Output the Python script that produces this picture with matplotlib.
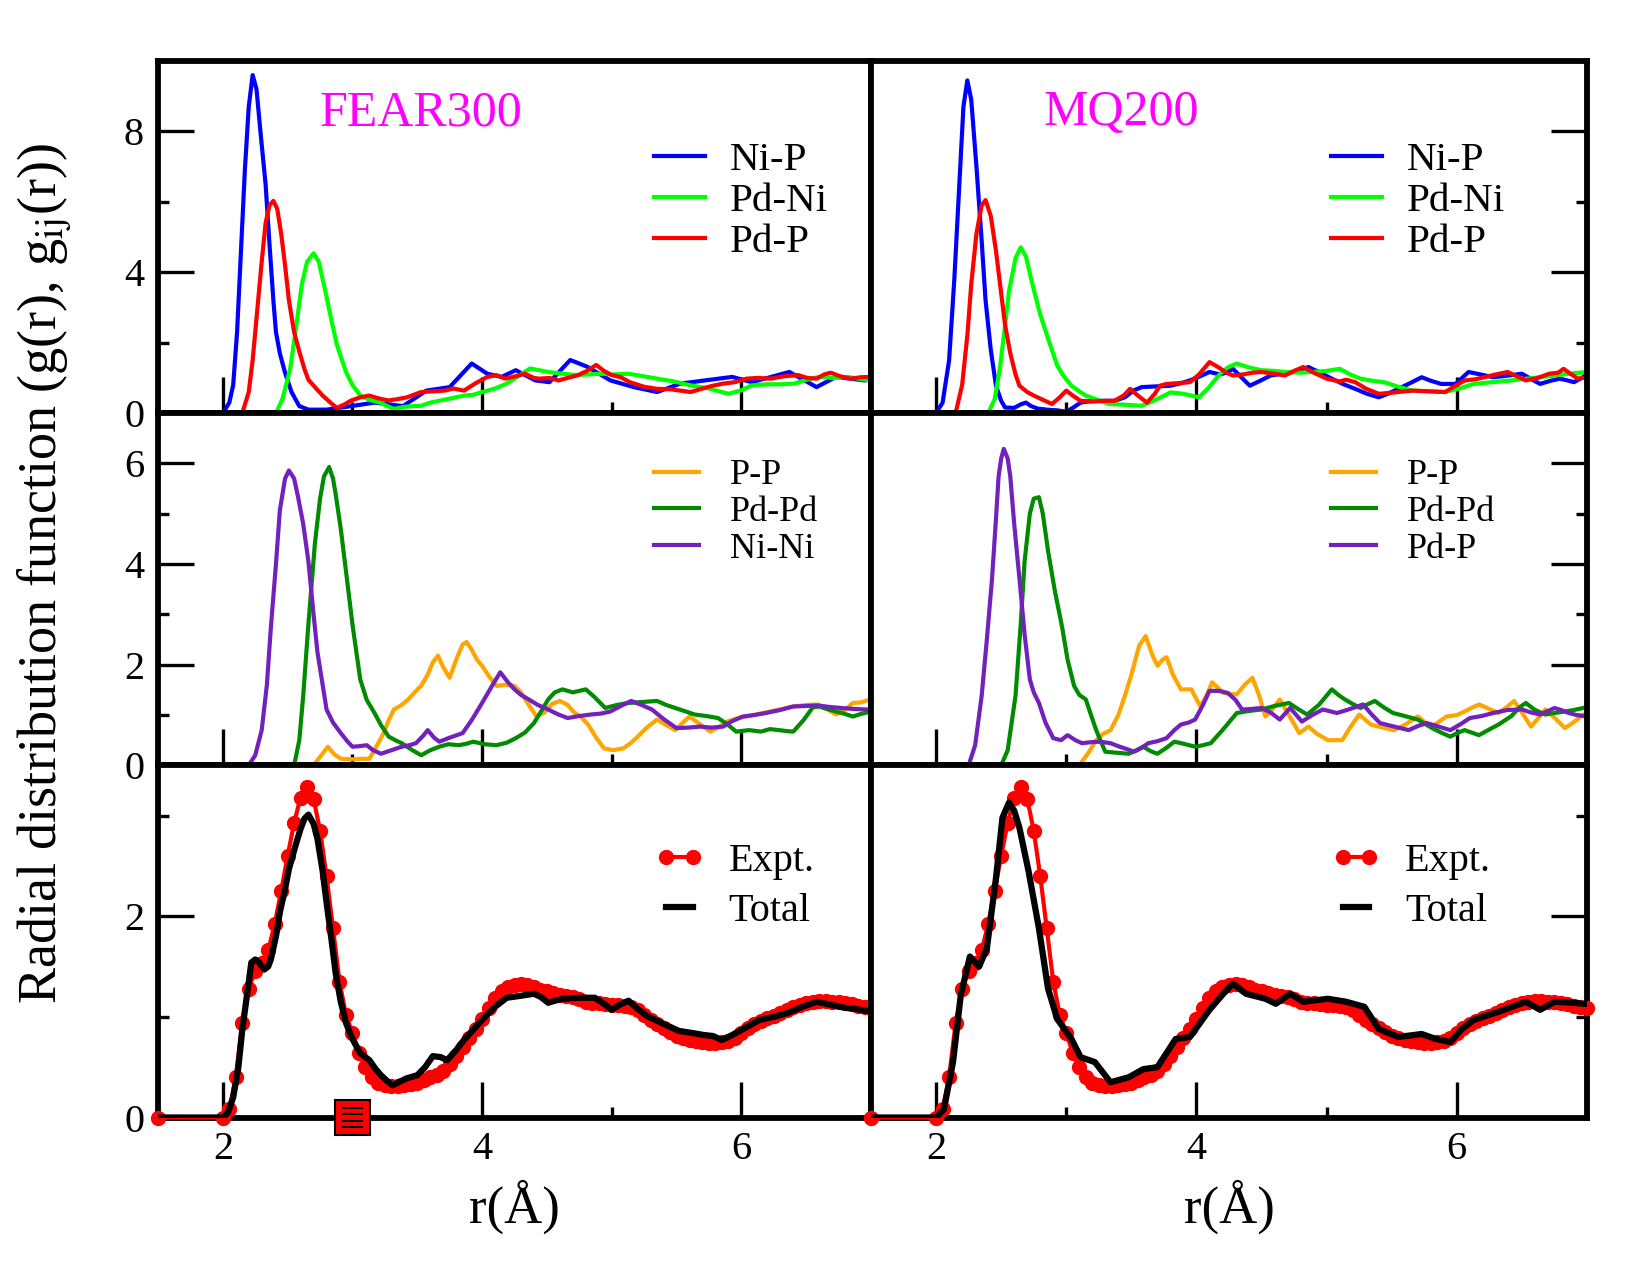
import matplotlib
matplotlib.use('Agg')
import matplotlib.pyplot as plt
from matplotlib.ticker import MultipleLocator
from matplotlib.patches import Rectangle

plt.rcParams['font.family'] = ['Liberation Serif', 'DejaVu Serif']
plt.rcParams['mathtext.fontset'] = 'stix'

# ---------------- data ----------------
# top row, FEAR300
fear_nip_r = [2.0, 2.05, 2.08, 2.11, 2.14, 2.17, 2.20, 2.23, 2.26, 2.29, 2.33, 2.36, 2.39, 2.41, 2.44, 2.48, 2.53, 2.59, 2.66, 2.8, 2.99, 3.17, 3.39, 3.57, 3.75, 3.92, 4.04, 4.15, 4.26, 4.41, 4.52, 4.68, 4.81, 4.99, 5.17, 5.35, 5.53, 5.72, 5.93, 6.08, 6.37, 6.58, 6.73, 6.95, 7.0]
fear_nip_g = [0.0, 0.3, 0.8, 2.3, 4.6, 6.9, 8.7, 9.6, 9.2, 8.0, 6.5, 4.8, 3.2, 2.3, 1.7, 1.15, 0.6, 0.2, 0.1, 0.1, 0.2, 0.3, 0.2, 0.64, 0.74, 1.41, 1.12, 1.03, 1.22, 0.93, 0.88, 1.51, 1.32, 0.93, 0.74, 0.6, 0.84, 0.93, 1.03, 0.88, 1.17, 0.74, 1.03, 0.93, 0.95]
fear_pdni_r = [2.41, 2.46, 2.52, 2.56, 2.61, 2.65, 2.70, 2.74, 2.79, 2.84, 2.88, 2.95, 3.0, 3.06, 3.13, 3.21, 3.27, 3.32, 3.4, 3.47, 3.53, 3.6, 3.68, 3.76, 3.86, 3.93, 4.0, 4.1, 4.19, 4.28, 4.37, 4.44, 4.51, 4.62, 4.73, 4.82, 4.91, 5.02, 5.13, 5.24, 5.35, 5.48, 5.61, 5.75, 5.9, 6.0, 6.08, 6.2, 6.3, 6.41, 6.5, 6.6, 6.71, 6.82, 6.9, 7.0]
fear_pdni_g = [0.0, 0.4, 1.27, 2.3, 3.67, 4.3, 4.54, 4.3, 3.48, 2.6, 1.94, 1.17, 0.8, 0.5, 0.38, 0.3, 0.2, 0.12, 0.18, 0.2, 0.21, 0.3, 0.36, 0.42, 0.5, 0.52, 0.6, 0.7, 0.84, 1.05, 1.27, 1.22, 1.17, 1.12, 1.08, 1.1, 1.12, 1.1, 1.12, 1.05, 0.98, 0.9, 0.79, 0.7, 0.55, 0.65, 0.79, 0.82, 0.82, 0.84, 0.95, 1.03, 1.0, 1.03, 0.98, 0.93]
fear_pdp_r = [2.15, 2.20, 2.23, 2.26, 2.30, 2.33, 2.36, 2.39, 2.42, 2.45, 2.48, 2.51, 2.55, 2.59, 2.63, 2.66, 2.72, 2.77, 2.83, 2.88, 2.94, 2.99, 3.06, 3.13, 3.2, 3.28, 3.35, 3.42, 3.53, 3.62, 3.71, 3.78, 3.86, 3.95, 4.04, 4.11, 4.18, 4.26, 4.33, 4.4, 4.44, 4.52, 4.59, 4.66, 4.74, 4.81, 4.88, 4.94, 5.0, 5.07, 5.14, 5.25, 5.35, 5.45, 5.53, 5.61, 5.7, 5.78, 5.86, 5.95, 6.04, 6.12, 6.23, 6.33, 6.44, 6.51, 6.58, 6.64, 6.69, 6.76, 6.84, 6.92, 7.0]
fear_pdp_g = [0.0, 0.6, 1.5, 2.7, 4.3, 5.4, 5.9, 6.03, 5.8, 5.1, 4.2, 3.2, 2.3, 1.75, 1.25, 0.95, 0.7, 0.5, 0.3, 0.15, 0.25, 0.36, 0.45, 0.5, 0.42, 0.36, 0.4, 0.45, 0.6, 0.62, 0.64, 0.7, 0.64, 0.85, 1.03, 1.08, 0.98, 1.05, 1.12, 1.0, 0.98, 1.0, 0.93, 1.0, 1.08, 1.2, 1.37, 1.2, 1.08, 1.02, 0.88, 0.75, 0.69, 0.68, 0.64, 0.6, 0.7, 0.78, 0.84, 0.88, 0.98, 1.0, 0.98, 1.05, 1.08, 1.0, 0.98, 1.1, 1.15, 1.05, 0.98, 1.02, 1.03]

# top row, MQ200
mq_nip_r = [2.0, 2.05, 2.1, 2.14, 2.18, 2.21, 2.24, 2.27, 2.31, 2.35, 2.38, 2.42, 2.46, 2.5, 2.53, 2.6, 2.65, 2.69, 2.73, 2.78, 2.85, 2.93, 3.0, 3.05, 3.11, 3.2, 3.28, 3.37, 3.45, 3.52, 3.58, 3.69, 3.8, 3.88, 3.95, 4.03, 4.1, 4.18, 4.23, 4.28, 4.35, 4.41, 4.49, 4.57, 4.66, 4.75, 4.86, 4.95, 5.04, 5.13, 5.22, 5.31, 5.4, 5.47, 5.55, 5.64, 5.73, 5.8, 5.88, 5.99, 6.09, 6.18, 6.28, 6.4, 6.5, 6.58, 6.64, 6.72, 6.79, 6.86, 6.9, 6.96, 7.0]
mq_nip_g = [0.0, 0.3, 1.5, 3.8, 6.6, 8.7, 9.45, 8.9, 7.0, 4.9, 3.2, 1.8, 0.78, 0.35, 0.16, 0.15, 0.25, 0.3, 0.2, 0.13, 0.1, 0.08, 0.04, 0.15, 0.3, 0.35, 0.35, 0.35, 0.45, 0.65, 0.74, 0.76, 0.78, 0.85, 0.93, 1.05, 1.17, 1.1, 1.15, 1.26, 1.0, 0.78, 0.92, 1.07, 1.12, 1.17, 1.31, 1.15, 0.98, 0.82, 0.69, 0.55, 0.45, 0.55, 0.69, 0.85, 1.02, 0.92, 0.83, 0.83, 1.17, 1.1, 1.02, 1.07, 1.12, 0.95, 0.83, 0.92, 0.98, 0.92, 0.88, 1.0, 1.12]
mq_pdni_r = [2.4, 2.45, 2.49, 2.53, 2.56, 2.61, 2.65, 2.69, 2.74, 2.8, 2.86, 2.93, 2.98, 3.04, 3.1, 3.15, 3.24, 3.33, 3.45, 3.58, 3.7, 3.8, 3.9, 4.02, 4.1, 4.17, 4.24, 4.31, 4.4, 4.5, 4.6, 4.68, 4.8, 4.9, 5.0, 5.1, 5.18, 5.26, 5.35, 5.44, 5.55, 5.66, 5.8, 5.91, 6.02, 6.13, 6.27, 6.42, 6.54, 6.64, 6.75, 6.86, 7.0]
mq_pdni_g = [0.0, 0.4, 1.26, 2.5, 3.46, 4.4, 4.71, 4.45, 3.66, 2.8, 2.12, 1.36, 1.05, 0.78, 0.62, 0.5, 0.38, 0.26, 0.24, 0.21, 0.4, 0.59, 0.55, 0.45, 0.75, 1.07, 1.3, 1.41, 1.3, 1.22, 1.2, 1.17, 1.15, 1.17, 1.2, 1.26, 1.1, 0.98, 0.92, 0.88, 0.75, 0.64, 0.62, 0.6, 0.7, 0.83, 0.88, 0.93, 0.98, 1.02, 1.07, 1.12, 1.17]
mq_pdp_r = [2.15, 2.2, 2.24, 2.27, 2.31, 2.35, 2.38, 2.42, 2.46, 2.5, 2.53, 2.57, 2.61, 2.64, 2.7, 2.75, 2.82, 2.89, 2.95, 3.0, 3.05, 3.11, 3.2, 3.3, 3.37, 3.44, 3.49, 3.55, 3.62, 3.68, 3.72, 3.77, 3.85, 3.95, 4.02, 4.1, 4.17, 4.23, 4.28, 4.36, 4.43, 4.5, 4.6, 4.68, 4.75, 4.82, 4.9, 5.0, 5.1, 5.15, 5.22, 5.3, 5.4, 5.5, 5.6, 5.66, 5.78, 5.91, 6.0, 6.06, 6.14, 6.21, 6.3, 6.39, 6.46, 6.53, 6.62, 6.71, 6.78, 6.82, 6.88, 6.93, 7.0]
mq_pdp_g = [0.0, 0.8, 2.2, 3.66, 5.1, 5.9, 6.05, 5.6, 4.61, 3.4, 2.5, 1.7, 1.1, 0.78, 0.6, 0.5, 0.38, 0.26, 0.45, 0.64, 0.5, 0.35, 0.33, 0.35, 0.35, 0.5, 0.69, 0.5, 0.3, 0.55, 0.78, 0.83, 0.85, 0.88, 1.1, 1.45, 1.3, 1.15, 1.07, 1.1, 1.15, 1.17, 1.12, 1.07, 1.2, 1.31, 1.15, 0.98, 0.9, 0.95, 0.88, 0.7, 0.55, 0.58, 0.62, 0.64, 0.62, 0.6, 0.8, 0.93, 0.96, 1.02, 1.1, 1.17, 1.05, 0.93, 1.0, 1.12, 1.15, 1.26, 1.1, 0.98, 1.02]

# middle row, FEAR300
fear_pp_r = [2.7, 2.76, 2.81, 2.86, 2.91, 3.0, 3.08, 3.13, 3.18, 3.24, 3.28, 3.32, 3.38, 3.43, 3.48, 3.53, 3.58, 3.62, 3.66, 3.7, 3.75, 3.8, 3.85, 3.88, 3.92, 3.96, 4.0, 4.05, 4.11, 4.18, 4.25, 4.3, 4.36, 4.42, 4.48, 4.54, 4.6, 4.66, 4.71, 4.76, 4.82, 4.88, 4.94, 5.01, 5.09, 5.15, 5.2, 5.27, 5.35, 5.42, 5.49, 5.55, 5.6, 5.68, 5.76, 5.82, 5.89, 5.96, 6.04, 6.13, 6.22, 6.31, 6.4, 6.5, 6.59, 6.66, 6.73, 6.8, 6.86, 6.92, 7.0]
fear_pp_g = [0.0, 0.2, 0.37, 0.22, 0.13, 0.12, 0.13, 0.13, 0.35, 0.64, 0.9, 1.11, 1.2, 1.31, 1.45, 1.58, 1.8, 2.05, 2.18, 1.95, 1.74, 2.1, 2.4, 2.45, 2.3, 2.1, 1.98, 1.78, 1.58, 1.6, 1.58, 1.45, 1.2, 0.97, 1.05, 1.22, 1.28, 1.2, 1.05, 0.97, 0.8, 0.55, 0.34, 0.3, 0.34, 0.45, 0.57, 0.75, 0.91, 0.8, 0.7, 0.85, 0.97, 0.82, 0.67, 0.75, 0.87, 0.93, 0.97, 1.02, 1.07, 1.12, 1.17, 1.2, 1.21, 1.12, 1.01, 1.1, 1.24, 1.25, 1.31]
fear_pdpd_r = [2.55, 2.59, 2.62, 2.66, 2.71, 2.75, 2.78, 2.82, 2.85, 2.87, 2.91, 2.95, 3.0, 3.06, 3.11, 3.17, 3.22, 3.28, 3.33, 3.38, 3.45, 3.53, 3.6, 3.67, 3.74, 3.82, 3.88, 3.93, 4.02, 4.11, 4.19, 4.26, 4.33, 4.4, 4.45, 4.51, 4.56, 4.62, 4.7, 4.8, 4.87, 4.95, 5.04, 5.13, 5.24, 5.35, 5.42, 5.49, 5.56, 5.64, 5.73, 5.82, 5.89, 5.96, 6.06, 6.15, 6.22, 6.29, 6.35, 6.4, 6.48, 6.55, 6.6, 6.66, 6.73, 6.8, 6.86, 6.92, 7.0]
fear_pdpd_g = [0.0, 0.5, 1.38, 2.8, 4.4, 5.3, 5.74, 5.93, 5.7, 5.4, 4.7, 3.86, 2.8, 1.71, 1.3, 1.04, 0.8, 0.57, 0.5, 0.44, 0.32, 0.2, 0.3, 0.37, 0.42, 0.4, 0.43, 0.47, 0.42, 0.4, 0.45, 0.54, 0.65, 0.84, 1.05, 1.31, 1.45, 1.51, 1.45, 1.51, 1.35, 1.14, 1.2, 1.24, 1.26, 1.28, 1.2, 1.14, 1.08, 1.01, 0.98, 0.94, 0.82, 0.67, 0.7, 0.67, 0.72, 0.7, 0.68, 0.67, 0.9, 1.15, 1.17, 1.12, 1.07, 1.02, 0.97, 1.02, 1.07]
fear_nini_r = [2.2, 2.25, 2.3, 2.34, 2.37, 2.41, 2.44, 2.48, 2.51, 2.55, 2.58, 2.62, 2.66, 2.7, 2.73, 2.77, 2.8, 2.85, 2.91, 2.96, 3.0, 3.05, 3.11, 3.16, 3.22, 3.3, 3.38, 3.44, 3.49, 3.55, 3.58, 3.63, 3.67, 3.75, 3.85, 3.92, 4.0, 4.07, 4.14, 4.2, 4.25, 4.3, 4.36, 4.43, 4.51, 4.58, 4.66, 4.75, 4.84, 4.92, 4.99, 5.07, 5.15, 5.23, 5.31, 5.4, 5.5, 5.59, 5.68, 5.77, 5.86, 5.93, 6.01, 6.1, 6.19, 6.3, 6.4, 6.5, 6.59, 6.68, 6.77, 6.87, 6.97, 7.0]
fear_nini_g = [0.0, 0.2, 0.7, 1.6, 2.72, 4.0, 5.07, 5.7, 5.86, 5.7, 5.34, 4.8, 4.06, 3.0, 2.25, 1.6, 1.11, 0.85, 0.64, 0.48, 0.37, 0.38, 0.4, 0.3, 0.23, 0.3, 0.37, 0.4, 0.44, 0.6, 0.7, 0.55, 0.47, 0.55, 0.64, 0.9, 1.24, 1.55, 1.85, 1.65, 1.51, 1.4, 1.31, 1.2, 1.11, 1.02, 0.94, 0.98, 1.01, 1.03, 1.07, 1.18, 1.28, 1.2, 1.11, 0.92, 0.74, 0.75, 0.77, 0.75, 0.77, 0.88, 0.97, 1.0, 1.04, 1.1, 1.17, 1.18, 1.19, 1.16, 1.14, 1.12, 1.11, 1.1]

# middle row, MQ200
mq_pp_r = [3.1, 3.17, 3.23, 3.28, 3.34, 3.4, 3.45, 3.5, 3.56, 3.61, 3.66, 3.7, 3.74, 3.77, 3.82, 3.88, 3.96, 4.03, 4.08, 4.12, 4.16, 4.21, 4.26, 4.31, 4.37, 4.43, 4.48, 4.53, 4.58, 4.64, 4.71, 4.79, 4.86, 4.93, 5.01, 5.12, 5.18, 5.25, 5.34, 5.43, 5.52, 5.61, 5.7, 5.76, 5.81, 5.87, 5.92, 6.0, 6.06, 6.12, 6.17, 6.25, 6.32, 6.38, 6.44, 6.5, 6.57, 6.62, 6.68, 6.75, 6.83, 6.9, 6.97, 7.0]
mq_pp_g = [0.0, 0.25, 0.5, 0.62, 0.7, 1.0, 1.38, 1.8, 2.38, 2.57, 2.2, 1.98, 2.1, 2.15, 1.8, 1.51, 1.51, 1.17, 1.4, 1.65, 1.55, 1.44, 1.42, 1.41, 1.6, 1.74, 1.4, 0.97, 1.1, 1.31, 1.0, 0.64, 0.77, 0.62, 0.5, 0.5, 0.75, 1.01, 0.81, 0.75, 0.7, 0.82, 0.97, 0.85, 0.77, 0.88, 0.97, 1.0, 1.07, 1.15, 1.21, 1.12, 1.04, 1.15, 1.28, 1.05, 0.77, 0.92, 1.11, 0.95, 0.74, 0.86, 1.01, 1.02]
mq_pdpd_r = [2.5, 2.55, 2.61, 2.65, 2.68, 2.72, 2.75, 2.79, 2.82, 2.86, 2.91, 2.97, 3.01, 3.06, 3.1, 3.15, 3.19, 3.23, 3.27, 3.3, 3.39, 3.48, 3.54, 3.59, 3.65, 3.7, 3.77, 3.83, 3.9, 3.99, 4.05, 4.11, 4.2, 4.31, 4.4, 4.5, 4.6, 4.71, 4.78, 4.85, 4.94, 5.04, 5.09, 5.14, 5.2, 5.26, 5.32, 5.37, 5.44, 5.51, 5.6, 5.7, 5.81, 5.88, 5.95, 6.01, 6.06, 6.17, 6.24, 6.32, 6.42, 6.48, 6.53, 6.6, 6.68, 6.75, 6.83, 6.9, 6.97]
mq_pdpd_g = [0.0, 0.3, 1.38, 2.8, 4.06, 5.0, 5.3, 5.33, 5.0, 4.26, 3.5, 2.72, 2.1, 1.58, 1.4, 1.31, 1.0, 0.7, 0.45, 0.27, 0.25, 0.23, 0.3, 0.37, 0.28, 0.23, 0.35, 0.47, 0.43, 0.37, 0.4, 0.44, 0.7, 1.04, 1.08, 1.11, 1.18, 1.24, 1.12, 1.01, 1.2, 1.51, 1.4, 1.31, 1.22, 1.14, 1.22, 1.28, 1.15, 1.04, 0.98, 0.91, 0.74, 0.65, 0.57, 0.65, 0.7, 0.6, 0.7, 0.81, 0.98, 1.15, 1.24, 1.1, 1.01, 1.04, 1.07, 1.1, 1.14]
mq_pdp2_r = [2.25, 2.3, 2.35, 2.39, 2.43, 2.46, 2.48, 2.5, 2.52, 2.55, 2.57, 2.6, 2.64, 2.68, 2.72, 2.75, 2.79, 2.84, 2.9, 2.96, 3.01, 3.07, 3.12, 3.19, 3.26, 3.34, 3.41, 3.47, 3.52, 3.58, 3.63, 3.7, 3.77, 3.83, 3.88, 3.94, 3.99, 4.05, 4.1, 4.17, 4.24, 4.3, 4.35, 4.42, 4.5, 4.57, 4.64, 4.72, 4.81, 4.89, 4.97, 5.08, 5.18, 5.28, 5.35, 5.41, 5.52, 5.63, 5.7, 5.77, 5.86, 5.95, 6.03, 6.1, 6.19, 6.28, 6.39, 6.5, 6.57, 6.64, 6.7, 6.75, 6.8, 6.86, 6.92, 7.0]
mq_pdp2_g = [0.0, 0.4, 1.38, 2.5, 3.72, 4.9, 5.74, 6.1, 6.29, 6.1, 5.74, 4.8, 3.72, 2.6, 1.71, 1.45, 1.24, 0.85, 0.54, 0.5, 0.6, 0.5, 0.44, 0.46, 0.47, 0.44, 0.37, 0.32, 0.27, 0.35, 0.44, 0.48, 0.54, 0.7, 0.81, 0.85, 0.91, 1.2, 1.48, 1.48, 1.44, 1.3, 1.11, 1.12, 1.14, 1.05, 0.91, 1.14, 0.87, 1.0, 1.11, 1.04, 1.12, 1.21, 1.0, 0.84, 0.77, 0.7, 0.78, 0.84, 0.77, 0.7, 0.82, 0.94, 0.98, 1.04, 1.1, 1.11, 1.05, 1.01, 1.08, 1.14, 1.1, 1.04, 1.0, 0.97]

# bottom row: experiment (same in both panels) and model totals
expt_r = [1.5, 2.0, 2.05, 2.1, 2.15, 2.2, 2.25, 2.3, 2.35, 2.4, 2.45, 2.5, 2.55, 2.6, 2.65, 2.7, 2.75, 2.8, 2.85, 2.9, 2.95, 3.0, 3.05, 3.1, 3.15, 3.2, 3.25, 3.3, 3.35, 3.4, 3.45, 3.5, 3.55, 3.6, 3.65, 3.7, 3.75, 3.8, 3.85, 3.9, 3.95, 4.0, 4.05, 4.1, 4.15, 4.2, 4.25, 4.3, 4.35, 4.4, 4.45, 4.5, 4.55, 4.6, 4.65, 4.7, 4.75, 4.8, 4.85, 4.9, 4.95, 5.0, 5.05, 5.1, 5.15, 5.2, 5.25, 5.3, 5.35, 5.4, 5.45, 5.5, 5.55, 5.6, 5.65, 5.7, 5.75, 5.8, 5.85, 5.9, 5.95, 6.0, 6.05, 6.1, 6.15, 6.2, 6.25, 6.3, 6.35, 6.4, 6.45, 6.5, 6.55, 6.6, 6.65, 6.7, 6.75, 6.8, 6.85, 6.9, 6.95, 7.0]
expt_g = [0.0, 0.0, 0.08, 0.4, 0.94, 1.28, 1.46, 1.54, 1.66, 1.92, 2.25, 2.6, 2.93, 3.18, 3.28, 3.17, 2.85, 2.4, 1.88, 1.35, 1.02, 0.84, 0.64, 0.5, 0.4, 0.34, 0.32, 0.31, 0.31, 0.32, 0.33, 0.34, 0.37, 0.4, 0.42, 0.46, 0.53, 0.61, 0.7, 0.79, 0.88, 0.98, 1.09, 1.19, 1.26, 1.3, 1.32, 1.33, 1.32, 1.3, 1.27, 1.26, 1.24, 1.22, 1.21, 1.2, 1.18, 1.15, 1.14, 1.14, 1.13, 1.12, 1.12, 1.11, 1.1, 1.07, 1.02, 0.97, 0.93, 0.89, 0.85, 0.81, 0.79, 0.77, 0.76, 0.75, 0.74, 0.74, 0.75, 0.76, 0.79, 0.84, 0.89, 0.93, 0.96, 0.99, 1.01, 1.04, 1.07, 1.1, 1.12, 1.14, 1.15, 1.16, 1.16, 1.15, 1.15, 1.14, 1.13, 1.11, 1.1, 1.09]
fear_tot_r = [1.5, 2.0, 2.04, 2.08, 2.12, 2.15, 2.19, 2.22, 2.25, 2.28, 2.32, 2.35, 2.37, 2.41, 2.44, 2.48, 2.51, 2.56, 2.6, 2.63, 2.66, 2.7, 2.73, 2.77, 2.8, 2.84, 2.87, 2.91, 2.95, 3.0, 3.06, 3.13, 3.18, 3.22, 3.27, 3.31, 3.37, 3.42, 3.5, 3.56, 3.62, 3.68, 3.73, 3.8, 3.86, 3.93, 4.0, 4.06, 4.11, 4.19, 4.3, 4.4, 4.45, 4.51, 4.56, 4.62, 4.75, 4.87, 4.94, 5.0, 5.06, 5.13, 5.2, 5.27, 5.4, 5.52, 5.62, 5.71, 5.78, 5.85, 5.93, 6.0, 6.07, 6.14, 6.25, 6.36, 6.47, 6.58, 6.69, 6.8, 6.88, 6.96, 7.0]
fear_tot_g = [0.0, 0.0, 0.05, 0.2, 0.5, 0.87, 1.25, 1.54, 1.57, 1.54, 1.47, 1.5, 1.57, 1.8, 2.04, 2.27, 2.47, 2.7, 2.87, 2.97, 3.01, 2.92, 2.77, 2.45, 2.14, 1.75, 1.44, 1.15, 0.94, 0.78, 0.64, 0.57, 0.48, 0.42, 0.36, 0.32, 0.36, 0.39, 0.42, 0.5, 0.61, 0.6, 0.57, 0.67, 0.77, 0.87, 0.97, 1.05, 1.11, 1.19, 1.21, 1.23, 1.2, 1.14, 1.16, 1.18, 1.19, 1.19, 1.13, 1.07, 1.12, 1.16, 1.08, 1.01, 0.93, 0.86, 0.84, 0.82, 0.81, 0.77, 0.82, 0.87, 0.92, 0.97, 1.0, 1.04, 1.1, 1.15, 1.12, 1.09, 1.08, 1.06, 1.06]
mq_tot_r = [1.5, 2.0, 2.06, 2.13, 2.19, 2.26, 2.33, 2.39, 2.46, 2.51, 2.56, 2.6, 2.64, 2.71, 2.79, 2.86, 2.93, 3.04, 3.11, 3.22, 3.34, 3.48, 3.59, 3.7, 3.84, 3.95, 4.1, 4.2, 4.28, 4.38, 4.53, 4.61, 4.72, 4.82, 5.01, 5.15, 5.29, 5.4, 5.55, 5.73, 5.84, 5.95, 6.04, 6.13, 6.32, 6.53, 6.64, 6.75, 6.9, 6.97, 7.0]
mq_tot_g = [0.0, 0.0, 0.08, 0.55, 1.22, 1.6, 1.5, 1.68, 2.38, 2.98, 3.13, 3.05, 2.88, 2.45, 1.88, 1.28, 0.98, 0.78, 0.6, 0.55, 0.35, 0.4, 0.48, 0.5, 0.78, 0.8, 1.07, 1.22, 1.33, 1.23, 1.18, 1.13, 1.23, 1.15, 1.18, 1.15, 1.1, 0.88, 0.8, 0.83, 0.78, 0.75, 0.88, 0.97, 1.05, 1.15, 1.07, 1.15, 1.14, 1.13, 1.13]

panel_titles = ['FEAR300', 'MQ200']

# ---------------- layout ----------------
W, H = 1650, 1275
fig = plt.figure(figsize=(W / 100, H / 100), dpi=100)

x_left, x_mid, x_right = 158, 871, 1587
y_top, y_bot = 61, 1117.5
row_h = (y_bot - y_top) / 3

def make_ax(col, row):
    x0 = x_left if col == 0 else x_mid
    x1 = x_mid if col == 0 else x_right
    y0 = y_top + row * row_h
    return fig.add_axes([x0 / W, 1 - (y0 + row_h) / H, (x1 - x0) / W, row_h / H])

blue, lime, red = '#0000ff', '#00ff00', '#ff0000'
orange, dgreen, purple = '#ffa500', '#008b00', '#7221bc'

def style(ax, col, ymax, ymaj, ymin, bottom_labels):
    ax.set_xlim(1.5, 7.0)
    ax.set_ylim(0, ymax)
    ax.xaxis.set_major_locator(MultipleLocator(2))
    ax.xaxis.set_minor_locator(MultipleLocator(1))
    ax.yaxis.set_major_locator(MultipleLocator(ymaj))
    ax.yaxis.set_minor_locator(MultipleLocator(ymin))
    for s in ax.spines.values():
        s.set_linewidth(4.2)
    left = col == 0
    ax.tick_params(which='both', direction='in', width=2.4, top=False,
                   left=left, right=not left, labelleft=left, labelright=False,
                   labelbottom=bottom_labels, labelsize=29, pad=10)
    ax.tick_params(which='major', length=26)
    ax.tick_params(which='minor', length=8)

def add_legend(ax, x0, ytop, fs, spacing, npts=1, tpad=0.6):
    ax.legend(loc='upper left', bbox_to_anchor=(x0, ytop), frameon=False,
              fontsize=fs, handlelength=1.25, handletextpad=tpad,
              labelspacing=spacing, borderpad=0, borderaxespad=0, numpoints=npts)

lw = 3.0
top_sets = [
    (fear_nip_r, fear_nip_g, fear_pdni_r, fear_pdni_g, fear_pdp_r, fear_pdp_g),
    (mq_nip_r, mq_nip_g, mq_pdni_r, mq_pdni_g, mq_pdp_r, mq_pdp_g),
]
mid_sets = [
    (fear_pp_r, fear_pp_g, fear_pdpd_r, fear_pdpd_g, fear_nini_r, fear_nini_g, 'Ni-Ni'),
    (mq_pp_r, mq_pp_g, mq_pdpd_r, mq_pdpd_g, mq_pdp2_r, mq_pdp2_g, 'Pd-P'),
]
tot_sets = [(fear_tot_r, fear_tot_g), (mq_tot_r, mq_tot_g)]
leg_x = [0.696, 0.642]

for col in range(2):
    # top row: unlike pairs
    ax = make_ax(col, 0)
    a = top_sets[col]
    ax.plot(a[0], a[1], color=blue, lw=lw, label='Ni-P')
    ax.plot(a[2], a[3], color=lime, lw=lw, label='Pd-Ni')
    ax.plot(a[4], a[5], color=red, lw=lw, label='Pd-P')
    style(ax, col, 10, 4, 2, False)
    add_legend(ax, leg_x[col], 0.772, 29.5, 0.08)
    ax.text(0.369 if col == 0 else 0.349, 0.852, panel_titles[col], transform=ax.transAxes,
            color='#ff00ff', fontsize=36, ha='center', va='center')

    # middle row
    ax = make_ax(col, 1)
    b = mid_sets[col]
    ax.plot(b[0], b[1], color=orange, lw=lw, label='P-P')
    ax.plot(b[2], b[3], color=dgreen, lw=lw, label='Pd-Pd')
    ax.plot(b[4], b[5], color=purple, lw=lw, label=b[6])
    style(ax, col, 7, 2, 1, False)
    add_legend(ax, leg_x[col], 0.87, 26, 0.1, tpad=0.85)

    # bottom row: total vs experiment
    ax = make_ax(col, 2)
    ax.plot(expt_r, expt_g, color=red, lw=3, marker='o', ms=10, mec=red, mfc=red,
            clip_on=False, label='Expt.', zorder=3)
    t = tot_sets[col]
    ax.plot(t[0], t[1], color='black', lw=4.5, label='Total', zorder=4)
    style(ax, col, 3.5, 2, 1, True)
    add_legend(ax, leg_x[col], 0.78, 29, 0.33, npts=2)
    ax.set_xlabel('r(Å)', fontsize=38, labelpad=8)

    if col == 0:
        # small note icon sitting on the axis at r = 3
        ax.add_patch(Rectangle((2.865, -0.173), 0.27, 0.347, facecolor=red,
                               edgecolor='black', lw=1.5, clip_on=False, zorder=6))
        for yy in [-0.09, -0.03, 0.03, 0.09]:
            ax.plot([2.93, 3.07], [yy, yy], color='black', lw=1.5, clip_on=False, zorder=7)

fig.text(44 / W, 1 - 573 / H, 'Radial distribution function (g(r), g$_{\\mathrm{ij}}$(r))',
         rotation=90, ha='center', va='center', fontsize=39)

fig.savefig('out.png', dpi=100)
